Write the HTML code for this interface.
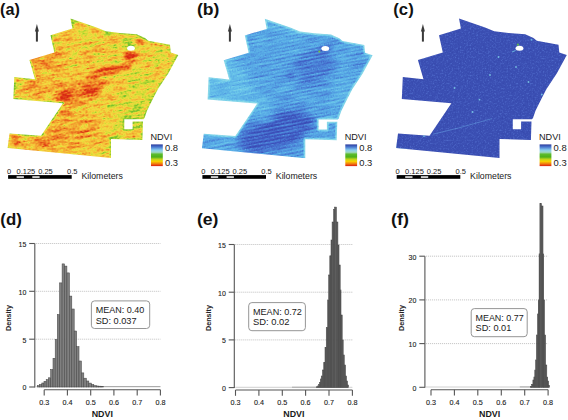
<!DOCTYPE html>
<html><head><meta charset="utf-8"><title>NDVI figure</title>
<style>
html,body{margin:0;padding:0;background:#fff;}
body{width:568px;height:420px;overflow:hidden;font-family:"Liberation Sans",sans-serif;}
svg{display:block;}
text{font-family:"Liberation Sans",sans-serif;}
</style></head><body>
<svg width="568" height="420" viewBox="0 0 568 420">
<defs>
<pattern id="stripesa" width="20" height="3.5" patternUnits="userSpaceOnUse" patternTransform="rotate(-9)"><rect width="20" height="1.3" fill="#000"/></pattern>
<pattern id="stripesb" width="20" height="3.4" patternUnits="userSpaceOnUse" patternTransform="rotate(-11)"><rect width="20" height="1.1" fill="#fff"/></pattern>
<filter id="sb" x="-5%" y="-5%" width="110%" height="110%"><feGaussianBlur stdDeviation="0.35"/></filter>
<clipPath id="field"><polygon points="70.5,18.5 96.6,27.5 105.7,31.3 120.0,33.0 136.7,34.2 145.0,38.0 148.3,40.8 170.0,44.7 170.8,52.5 178.3,55.0 168.4,73.2 158.0,89.0 153.2,98.2 147.0,110.7 144.5,118.0 143.5,119.2 124.3,119.2 124.3,129.3 132.6,129.3 132.6,121.5 143.0,121.5 142.4,140.0 111.0,139.0 111.0,158.0 7.6,148.0 9.5,133.4 41.0,135.7 62.9,103.3 13.3,99.1 14.3,77.0 35.0,79.3 29.4,60.0 54.3,52.4 50.5,35.2 72.4,28.6"/></clipPath>
<linearGradient id="ramp" x1="0" y1="0" x2="0" y2="1">
<stop offset="0" stop-color="#2b3a9c"/><stop offset="0.12" stop-color="#4a78d0"/>
<stop offset="0.26" stop-color="#86cdee"/><stop offset="0.36" stop-color="#a0d8c8"/>
<stop offset="0.45" stop-color="#5cbc2c"/><stop offset="0.58" stop-color="#4caf1c"/>
<stop offset="0.68" stop-color="#bcd41c"/><stop offset="0.78" stop-color="#f8d400"/>
<stop offset="0.9" stop-color="#f07810"/><stop offset="1" stop-color="#dc1c10"/>
</linearGradient>
<filter id="blur3" x="-50%" y="-50%" width="200%" height="200%"><feGaussianBlur stdDeviation="4"/></filter>
<filter id="blur05" x="-50%" y="-50%" width="200%" height="200%"><feGaussianBlur stdDeviation="0.45"/></filter>
<filter id="blur1" x="-50%" y="-50%" width="200%" height="200%"><feGaussianBlur stdDeviation="1.4"/></filter>
<filter id="fA" x="0" y="0" width="100%" height="100%" color-interpolation-filters="sRGB">
<feTurbulence type="fractalNoise" baseFrequency="0.07 0.35" numOctaves="2" seed="3" result="t1"/>
<feColorMatrix in="t1" type="matrix" values="1 0 0 0 0  1 0 0 0 0  1 0 0 0 0  0 0 0 0 1" result="n1"/>
<feTurbulence type="fractalNoise" baseFrequency="0.45 0.6" numOctaves="1" seed="7" result="t2"/>
<feColorMatrix in="t2" type="matrix" values="1 0 0 0 0  1 0 0 0 0  1 0 0 0 0  0 0 0 0 1" result="n2"/>
<feComposite in="SourceGraphic" in2="n1" operator="arithmetic" k1="0" k2="1" k3="1.0" k4="-0.5" result="s1"/>
<feComposite in="s1" in2="n2" operator="arithmetic" k1="0" k2="1" k3="0.8" k4="-0.4" result="s2"/>
<feColorMatrix in="s2" type="matrix" values="1 0 0 0 0  1 0 0 0 0  1 0 0 0 0  0 0 0 0 1"/>
<feComponentTransfer>
<feFuncR type="table" tableValues="0.85 0.91 0.94 0.96 0.95 0.78 0.45"/>
<feFuncG type="table" tableValues="0.16 0.36 0.56 0.72 0.86 0.86 0.75"/>
<feFuncB type="table" tableValues="0.08 0.11 0.16 0.21 0.25 0.20 0.18"/>
</feComponentTransfer>
</filter>
<filter id="fB" x="0" y="0" width="100%" height="100%" color-interpolation-filters="sRGB">
<feTurbulence type="fractalNoise" baseFrequency="0.05 0.42" numOctaves="2" seed="5" result="t1"/>
<feColorMatrix in="t1" type="matrix" values="1 0 0 0 0  1 0 0 0 0  1 0 0 0 0  0 0 0 0 1" result="n1"/>
<feTurbulence type="fractalNoise" baseFrequency="0.8" numOctaves="1" seed="9" result="t2"/>
<feColorMatrix in="t2" type="matrix" values="1 0 0 0 0  1 0 0 0 0  1 0 0 0 0  0 0 0 0 1" result="n2"/>
<feComposite in="SourceGraphic" in2="n1" operator="arithmetic" k1="0" k2="1" k3="0.5" k4="-0.25" result="s1"/>
<feComposite in="s1" in2="n2" operator="arithmetic" k1="0" k2="1" k3="0.5" k4="-0.25" result="s2"/>
<feColorMatrix in="s2" type="matrix" values="1 0 0 0 0  1 0 0 0 0  1 0 0 0 0  0 0 0 0 1"/>
<feComponentTransfer>
<feFuncR type="table" tableValues="0.22 0.25 0.29 0.34 0.42 0.56"/>
<feFuncG type="table" tableValues="0.27 0.35 0.50 0.66 0.78 0.86"/>
<feFuncB type="table" tableValues="0.68 0.76 0.84 0.90 0.92 0.91"/>
</feComponentTransfer>
</filter>
<filter id="fC" x="0" y="0" width="100%" height="100%" color-interpolation-filters="sRGB">
<feTurbulence type="fractalNoise" baseFrequency="0.6" numOctaves="2" seed="2" result="t2"/>
<feColorMatrix in="t2" type="matrix" values="0 0 0 0 0.20  0 0 0 0 0.27  0 0 0 0 0.66  -2.2 0 0 0 1.0" result="dk"/>
<feColorMatrix in="t2" type="matrix" values="0 0 0 0 0.33  0 0 0 0 0.45  0 0 0 0 0.82  2.2 0 0 0 -1.15" result="lt"/>
<feComposite in="dk" in2="SourceGraphic" operator="over" result="m1"/>
<feComposite in="lt" in2="m1" operator="over"/>
</filter>
</defs>
<rect width="568" height="420" fill="#fff"/>

<g transform="translate(0,0)">
<g clip-path="url(#field)">
<g transform="rotate(-10 90 90)"><g filter="url(#fA)"><g transform="rotate(10 90 90)">
<rect x="-20" y="-10" width="225" height="195" fill="rgb(158,158,158)"/>
<g filter="url(#blur3)">
<ellipse cx="45" cy="62" rx="22" ry="14" transform="rotate(-10 45 62)" fill="rgb(102,102,102)" opacity="0.8"/>
<ellipse cx="40" cy="88" rx="22" ry="10" transform="rotate(0 40 88)" fill="rgb(107,107,107)" opacity="0.75"/>
<ellipse cx="62" cy="135" rx="45" ry="12" transform="rotate(-15 62 135)" fill="rgb(92,92,92)" opacity="0.8"/>
<ellipse cx="60" cy="145" rx="35" ry="8" transform="rotate(0 60 145)" fill="rgb(115,115,115)" opacity="0.5"/>
<ellipse cx="140" cy="88" rx="14" ry="22" transform="rotate(-25 140 88)" fill="rgb(204,204,204)" opacity="0.8"/>
<ellipse cx="130" cy="112" rx="12" ry="10" transform="rotate(0 130 112)" fill="rgb(230,230,230)" opacity="0.9"/>
<ellipse cx="100" cy="33" rx="25" ry="6" transform="rotate(-15 100 33)" fill="rgb(191,191,191)" opacity="0.7"/>
<ellipse cx="160" cy="60" rx="14" ry="8" transform="rotate(0 160 60)" fill="rgb(204,204,204)" opacity="0.6"/>
<ellipse cx="80" cy="92" rx="28" ry="9" transform="rotate(-20 80 92)" fill="rgb(41,41,41)" opacity="0.95"/>
<ellipse cx="55" cy="108" rx="15" ry="8" transform="rotate(-25 55 108)" fill="rgb(64,64,64)" opacity="0.8"/>
<ellipse cx="114" cy="124" rx="12" ry="6" transform="rotate(-10 114 124)" fill="rgb(219,219,219)" opacity="0.8"/>
<ellipse cx="122" cy="102" rx="14" ry="10" transform="rotate(-20 122 102)" fill="rgb(189,189,189)" opacity="0.6"/>
</g>
<g filter="url(#blur1)">
<ellipse cx="112" cy="70" rx="20" ry="4" transform="rotate(-10 112 70)" fill="rgb(31,31,31)" opacity="0.9"/>
<ellipse cx="98" cy="74" rx="12" ry="3" transform="rotate(-10 98 74)" fill="rgb(38,38,38)" opacity="0.8"/>
<ellipse cx="72" cy="22" rx="4" ry="4" transform="rotate(0 72 22)" fill="rgb(242,242,242)" opacity="0.8"/>
<ellipse cx="130.5" cy="46" rx="8.5" ry="4.5" transform="rotate(0 130.5 46)" fill="rgb(242,242,242)" opacity="1"/>
<ellipse cx="131" cy="55.5" rx="7" ry="4.5" transform="rotate(0 131 55.5)" fill="rgb(10,10,10)" opacity="1"/>
<ellipse cx="139" cy="42" rx="5" ry="2.5" transform="rotate(-20 139 42)" fill="rgb(38,38,38)" opacity="0.9"/>
<ellipse cx="132" cy="124" rx="11" ry="5" transform="rotate(0 132 124)" fill="rgb(242,242,242)" opacity="0.8"/>
<ellipse cx="15" cy="140" rx="4" ry="8" transform="rotate(0 15 140)" fill="rgb(51,51,51)" opacity="0.7"/>
</g>
<rect x="-20" y="-10" width="225" height="195" fill="url(#stripesa)" opacity="0.12" filter="url(#sb)"/>
<polyline points="72.4,28.6 70.5,18.5 96.6,27.5 105.7,31.3 120,33 136.7,34.2 145,38 148.3,40.8 170,44.7 170.8,52.5 178.3,55 168.4,73.2 158,89 153.2,98.2 147,110.7 144.5,118" fill="none" stroke="rgb(242,242,242)" stroke-width="3.2" opacity="0.8" stroke-linejoin="round"/>
<polyline points="143,121.5 142.4,140" fill="none" stroke="rgb(242,242,242)" stroke-width="3.2" opacity="0.8" stroke-linejoin="round"/>
<polyline points="9.5,133.4 41,135.7 62.9,103.3 13.3,99.1 14.3,77 35,79.3 29.4,60" fill="none" stroke="rgb(242,242,242)" stroke-width="3.2" opacity="0.8" stroke-linejoin="round"/>
<polyline points="54.3,52.4 50.5,35.2" fill="none" stroke="rgb(242,242,242)" stroke-width="3.2" opacity="0.8" stroke-linejoin="round"/>
<polyline points="143.5,119.2 124.3,119.2 124.3,129.3 132.6,129.3 132.6,121.5 143,121.5" fill="none" stroke="rgb(242,242,242)" stroke-width="3.2" opacity="0.8" stroke-linejoin="round"/>
<polyline points="111,158 111,139 142.4,140" fill="none" stroke="rgb(242,242,242)" stroke-width="3.2" opacity="0.8" stroke-linejoin="round"/>
</g></g></g>
</g>
<ellipse cx="131" cy="48.2" rx="3.9" ry="2.5" fill="#fff"/>
</g>
<g transform="translate(194.3,0.3)">
<g clip-path="url(#field)">
<g transform="rotate(-10 90 90)"><g filter="url(#fB)"><g transform="rotate(10 90 90)">
<rect x="-20" y="-10" width="225" height="195" fill="rgb(128,128,128)"/>
<g filter="url(#blur3)">
<ellipse cx="82" cy="131" rx="40" ry="18" transform="rotate(-20 82 131)" fill="rgb(26,26,26)" opacity="1"/>
<ellipse cx="122" cy="68" rx="22" ry="18" transform="rotate(0 122 68)" fill="rgb(64,64,64)" opacity="0.85"/>
<ellipse cx="30" cy="82" rx="22" ry="28" transform="rotate(0 30 82)" fill="rgb(184,184,184)" opacity="0.8"/>
<ellipse cx="58" cy="98" rx="12" ry="26" transform="rotate(-35 58 98)" fill="rgb(178,178,178)" opacity="0.6"/>
<ellipse cx="95" cy="32" rx="35" ry="8" transform="rotate(-12 95 32)" fill="rgb(153,153,153)" opacity="0.6"/>
<ellipse cx="150" cy="95" rx="14" ry="26" transform="rotate(-30 150 95)" fill="rgb(158,158,158)" opacity="0.6"/>
<ellipse cx="20" cy="142" rx="14" ry="8" transform="rotate(0 20 142)" fill="rgb(153,153,153)" opacity="0.6"/>
</g>
<g filter="url(#blur1)">
<ellipse cx="97" cy="75" rx="5" ry="4" transform="rotate(0 97 75)" fill="rgb(56,56,56)" opacity="0.8"/>
<ellipse cx="128" cy="55" rx="3" ry="7" transform="rotate(0 128 55)" fill="rgb(64,64,64)" opacity="0.8"/>
<ellipse cx="131" cy="48" rx="7.5" ry="4.5" transform="rotate(0 131 48)" fill="rgb(51,51,51)" opacity="0.8"/>
</g>
<rect x="-20" y="-10" width="225" height="195" fill="url(#stripesb)" opacity="0.5" filter="url(#sb)"/>
<polyline points="72.4,28.6 70.5,18.5 96.6,27.5 105.7,31.3 120,33 136.7,34.2 145,38 148.3,40.8 170,44.7 170.8,52.5 178.3,55 168.4,73.2 158,89 153.2,98.2 147,110.7 144.5,118" fill="none" stroke="rgb(242,242,242)" stroke-width="3.2" opacity="1" stroke-linejoin="round"/>
<polyline points="143,121.5 142.4,140" fill="none" stroke="rgb(242,242,242)" stroke-width="3.2" opacity="1" stroke-linejoin="round"/>
<polyline points="9.5,133.4 41,135.7 62.9,103.3 13.3,99.1 14.3,77 35,79.3 29.4,60" fill="none" stroke="rgb(242,242,242)" stroke-width="3.2" opacity="1" stroke-linejoin="round"/>
<polyline points="54.3,52.4 50.5,35.2" fill="none" stroke="rgb(242,242,242)" stroke-width="3.2" opacity="1" stroke-linejoin="round"/>
<polyline points="143.5,119.2 124.3,119.2 124.3,129.3 132.6,129.3 132.6,121.5 143,121.5" fill="none" stroke="rgb(242,242,242)" stroke-width="3.2" opacity="1" stroke-linejoin="round"/>
<polyline points="111,158 111,139 142.4,140" fill="none" stroke="rgb(242,242,242)" stroke-width="3.2" opacity="1" stroke-linejoin="round"/>
</g></g></g>
<circle cx="125" cy="51.3" r="1.1" fill="#7cc83c" opacity="0.9" filter="url(#blur05)"/>
</g>
<ellipse cx="131" cy="48.2" rx="3.9" ry="2.5" fill="#fff"/>
</g>
<g transform="translate(388.5,0)">
<g clip-path="url(#field)">
<g filter="url(#fC)"><rect x="0" y="10" width="185" height="155" fill="#3b4fb3"/></g>
<g filter="url(#blur05)">
<polyline points="44.4,134.2 70,128 103.2,118.7" fill="none" stroke="#6aa8e6" stroke-width="0.7" opacity="0.7"/>
<circle cx="101.5" cy="75" r="0.9" fill="#7cd0e8" opacity="0.85"/>
<circle cx="127.5" cy="67" r="0.9" fill="#7cd0e8" opacity="0.85"/>
<circle cx="91" cy="99.7" r="0.9" fill="#7cd0e8" opacity="0.85"/>
<circle cx="153.3" cy="94.5" r="0.9" fill="#7cd0e8" opacity="0.85"/>
<circle cx="11.5" cy="94.5" r="0.9" fill="#7cd0e8" opacity="0.85"/>
<circle cx="8.1" cy="137.7" r="0.9" fill="#7cd0e8" opacity="0.85"/>
<circle cx="35.5" cy="136" r="0.9" fill="#7cd0e8" opacity="0.85"/>
<circle cx="66" cy="88" r="0.9" fill="#7cd0e8" opacity="0.85"/>
<circle cx="110" cy="57" r="0.9" fill="#7cd0e8" opacity="0.85"/>
<circle cx="125" cy="122" r="0.9" fill="#7cd0e8" opacity="0.85"/>
<circle cx="84" cy="112" r="0.9" fill="#7cd0e8" opacity="0.85"/>
<circle cx="140" cy="82" r="0.9" fill="#7cd0e8" opacity="0.85"/>
<polyline points="7.5,140 7.6,148 20,149.5" fill="none" stroke="#5fb0e0" stroke-width="1" opacity="0.5"/>
<circle cx="129.4" cy="44.7" r="1.1" fill="#60c040" opacity="0.9"/>
<polyline points="123.5,52 127,50.5" fill="none" stroke="#70c8e8" stroke-width="1" opacity="0.8"/>
<circle cx="143" cy="39.8" r="1" fill="#70c8e8" opacity="0.8"/>
</g>
</g>
<ellipse cx="131" cy="48.2" rx="3.9" ry="2.5" fill="#fff"/>
</g>
<polygon points="36.9,24.1 38.9,31.6 34.9,31.6" fill="#3a3a3a"/><rect x="35.9" y="30" width="2" height="11.6" fill="#3a3a3a"/>
<polygon points="229.9,24.1 231.9,31.6 227.9,31.6" fill="#3a3a3a"/><rect x="228.9" y="30" width="2" height="11.6" fill="#3a3a3a"/>
<polygon points="422.9,24.1 424.9,31.6 420.9,31.6" fill="#3a3a3a"/><rect x="421.9" y="30" width="2" height="11.6" fill="#3a3a3a"/>
<text x="0" y="15.3" font-size="16.5" font-weight="bold" fill="#111" textLength="19.8" lengthAdjust="spacingAndGlyphs">(a)</text>
<text x="196.9" y="15.3" font-size="16.5" font-weight="bold" fill="#111" textLength="22.4" lengthAdjust="spacingAndGlyphs">(b)</text>
<text x="393.3" y="15.3" font-size="16.5" font-weight="bold" fill="#111" textLength="20.4" lengthAdjust="spacingAndGlyphs">(c)</text>
<text x="150.4" y="139.7" font-size="9.8" fill="#1a1a1a" textLength="21.8" lengthAdjust="spacingAndGlyphs">NDVI</text>
<rect x="151.0" y="144.4" width="11.8" height="21.7" fill="url(#ramp)"/>
<text x="165.0" y="150.9" font-size="9.4" fill="#1a1a1a">0.8</text>
<text x="165.0" y="165.9" font-size="9.4" fill="#1a1a1a">0.3</text>
<rect x="8.1" y="175.1" width="63.6" height="3.7" fill="#000"/>
<rect x="16.6" y="176.3" width="7.3" height="1.5" fill="#fff"/>
<rect x="32.3" y="176.3" width="7.3" height="1.5" fill="#fff"/>
<text x="7.0" y="173.6" font-size="7.5" fill="#1a1a1a">0</text>
<text x="16.5" y="173.6" font-size="7.5" fill="#1a1a1a">0.125</text>
<text x="38.2" y="173.6" font-size="7.5" fill="#1a1a1a">0.25</text>
<text x="67.0" y="173.6" font-size="7.5" fill="#1a1a1a">0.5</text>
<text x="81.5" y="178.6" font-size="8.7" fill="#1a1a1a" textLength="41.4" lengthAdjust="spacingAndGlyphs">Kilometers</text>
<text x="344.7" y="139.7" font-size="9.8" fill="#1a1a1a" textLength="21.8" lengthAdjust="spacingAndGlyphs">NDVI</text>
<rect x="345.3" y="144.4" width="11.8" height="21.7" fill="url(#ramp)"/>
<text x="359.3" y="150.9" font-size="9.4" fill="#1a1a1a">0.8</text>
<text x="359.3" y="165.9" font-size="9.4" fill="#1a1a1a">0.3</text>
<rect x="202.4" y="175.1" width="63.6" height="3.7" fill="#000"/>
<rect x="210.9" y="176.3" width="7.3" height="1.5" fill="#fff"/>
<rect x="226.6" y="176.3" width="7.3" height="1.5" fill="#fff"/>
<text x="201.3" y="173.6" font-size="7.5" fill="#1a1a1a">0</text>
<text x="210.8" y="173.6" font-size="7.5" fill="#1a1a1a">0.125</text>
<text x="232.5" y="173.6" font-size="7.5" fill="#1a1a1a">0.25</text>
<text x="261.3" y="173.6" font-size="7.5" fill="#1a1a1a">0.5</text>
<text x="275.8" y="178.6" font-size="8.7" fill="#1a1a1a" textLength="41.4" lengthAdjust="spacingAndGlyphs">Kilometers</text>
<text x="539.0" y="139.7" font-size="9.8" fill="#1a1a1a" textLength="21.8" lengthAdjust="spacingAndGlyphs">NDVI</text>
<rect x="539.6" y="144.4" width="11.8" height="21.7" fill="url(#ramp)"/>
<text x="553.6" y="150.9" font-size="9.4" fill="#1a1a1a">0.8</text>
<text x="553.6" y="165.9" font-size="9.4" fill="#1a1a1a">0.3</text>
<rect x="396.7" y="175.1" width="63.6" height="3.7" fill="#000"/>
<rect x="405.2" y="176.3" width="7.3" height="1.5" fill="#fff"/>
<rect x="420.9" y="176.3" width="7.3" height="1.5" fill="#fff"/>
<text x="395.6" y="173.6" font-size="7.5" fill="#1a1a1a">0</text>
<text x="405.1" y="173.6" font-size="7.5" fill="#1a1a1a">0.125</text>
<text x="426.8" y="173.6" font-size="7.5" fill="#1a1a1a">0.25</text>
<text x="455.6" y="173.6" font-size="7.5" fill="#1a1a1a">0.5</text>
<text x="470.1" y="178.6" font-size="8.7" fill="#1a1a1a" textLength="41.4" lengthAdjust="spacingAndGlyphs">Kilometers</text>
<text x="0.3" y="225.2" font-size="16.5" font-weight="bold" fill="#111" textLength="21.5" lengthAdjust="spacingAndGlyphs">(d)</text>
<line x1="35.8" y1="339.2" x2="160.4" y2="339.2" stroke="#b0b0b0" stroke-width="0.8" stroke-dasharray="1 1"/>
<line x1="35.8" y1="291.3" x2="160.4" y2="291.3" stroke="#b0b0b0" stroke-width="0.8" stroke-dasharray="1 1"/>
<line x1="35.8" y1="243.5" x2="160.4" y2="243.5" stroke="#b0b0b0" stroke-width="0.8" stroke-dasharray="1 1"/>
<line x1="35.8" y1="386.7" x2="160.4" y2="386.7" stroke="#c4c4c4" stroke-width="0.8"/>
<line x1="95.0" y1="386.6" x2="160.4" y2="386.6" stroke="#9a9a9a" stroke-width="0.8"/>
<rect x="37.40" y="385.70" width="2.20" height="1.30" fill="#808080" stroke="#484848" stroke-width="0.55"/>
<rect x="39.60" y="384.60" width="2.20" height="2.40" fill="#808080" stroke="#484848" stroke-width="0.55"/>
<rect x="41.80" y="383.00" width="2.20" height="4.00" fill="#808080" stroke="#484848" stroke-width="0.55"/>
<rect x="44.00" y="381.40" width="2.20" height="5.60" fill="#808080" stroke="#484848" stroke-width="0.55"/>
<rect x="46.20" y="379.70" width="2.20" height="7.30" fill="#808080" stroke="#484848" stroke-width="0.55"/>
<rect x="48.40" y="377.80" width="2.30" height="9.20" fill="#808080" stroke="#484848" stroke-width="0.55"/>
<rect x="50.70" y="369.60" width="2.30" height="17.40" fill="#808080" stroke="#484848" stroke-width="0.55"/>
<rect x="53.00" y="358.30" width="2.20" height="28.70" fill="#808080" stroke="#484848" stroke-width="0.55"/>
<rect x="55.20" y="339.60" width="2.10" height="47.40" fill="#808080" stroke="#484848" stroke-width="0.55"/>
<rect x="57.30" y="314.60" width="2.30" height="72.40" fill="#808080" stroke="#484848" stroke-width="0.55"/>
<rect x="59.60" y="282.90" width="2.50" height="104.10" fill="#808080" stroke="#484848" stroke-width="0.55"/>
<rect x="62.10" y="263.90" width="2.40" height="123.10" fill="#808080" stroke="#484848" stroke-width="0.55"/>
<rect x="64.50" y="266.10" width="2.40" height="120.90" fill="#808080" stroke="#484848" stroke-width="0.55"/>
<rect x="66.90" y="272.90" width="2.50" height="114.10" fill="#808080" stroke="#484848" stroke-width="0.55"/>
<rect x="69.40" y="296.10" width="2.40" height="90.90" fill="#808080" stroke="#484848" stroke-width="0.55"/>
<rect x="71.80" y="309.00" width="2.40" height="78.00" fill="#808080" stroke="#484848" stroke-width="0.55"/>
<rect x="74.20" y="331.00" width="2.40" height="56.00" fill="#808080" stroke="#484848" stroke-width="0.55"/>
<rect x="76.60" y="346.70" width="2.40" height="40.30" fill="#808080" stroke="#484848" stroke-width="0.55"/>
<rect x="79.00" y="361.00" width="2.40" height="26.00" fill="#808080" stroke="#484848" stroke-width="0.55"/>
<rect x="81.40" y="372.90" width="2.40" height="14.10" fill="#808080" stroke="#484848" stroke-width="0.55"/>
<rect x="83.80" y="378.20" width="2.50" height="8.80" fill="#808080" stroke="#484848" stroke-width="0.55"/>
<rect x="86.30" y="381.00" width="2.50" height="6.00" fill="#808080" stroke="#484848" stroke-width="0.55"/>
<rect x="88.80" y="383.10" width="2.50" height="3.90" fill="#808080" stroke="#484848" stroke-width="0.55"/>
<rect x="91.30" y="384.60" width="2.50" height="2.40" fill="#808080" stroke="#484848" stroke-width="0.55"/>
<rect x="93.80" y="385.70" width="2.40" height="1.30" fill="#808080" stroke="#484848" stroke-width="0.55"/>
<rect x="96.20" y="386.00" width="2.40" height="1.00" fill="#808080" stroke="#484848" stroke-width="0.55"/>
<rect x="98.60" y="386.20" width="2.40" height="0.80" fill="#808080" stroke="#484848" stroke-width="0.55"/>
<rect x="101.00" y="386.30" width="2.40" height="0.70" fill="#808080" stroke="#484848" stroke-width="0.55"/>
<line x1="34.8" y1="243.5" x2="34.8" y2="387.4" stroke="#555" stroke-width="1.1"/>
<line x1="29.2" y1="387.0" x2="34.8" y2="387.0" stroke="#555" stroke-width="1.1"/>
<text x="26.3" y="390.4" font-size="7" fill="#222" stroke="#222" stroke-width="0.12" text-anchor="end">0</text>
<line x1="29.2" y1="339.2" x2="34.8" y2="339.2" stroke="#555" stroke-width="1.1"/>
<text x="26.3" y="342.6" font-size="7" fill="#222" stroke="#222" stroke-width="0.12" text-anchor="end">5</text>
<line x1="29.2" y1="291.3" x2="34.8" y2="291.3" stroke="#555" stroke-width="1.1"/>
<text x="26.3" y="294.7" font-size="7" fill="#222" stroke="#222" stroke-width="0.12" text-anchor="end">10</text>
<line x1="29.2" y1="243.5" x2="34.8" y2="243.5" stroke="#555" stroke-width="1.1"/>
<text x="26.3" y="246.9" font-size="7" fill="#222" stroke="#222" stroke-width="0.12" text-anchor="end">15</text>
<line x1="44.2" y1="389.8" x2="160.4" y2="389.8" stroke="#555" stroke-width="1.1"/>
<line x1="44.2" y1="389.8" x2="44.2" y2="395.6" stroke="#555" stroke-width="1.1"/>
<text x="44.2" y="404.6" font-size="7.2" fill="#222" stroke="#222" stroke-width="0.12" text-anchor="middle">0.3</text>
<line x1="67.4" y1="389.8" x2="67.4" y2="395.6" stroke="#555" stroke-width="1.1"/>
<text x="67.4" y="404.6" font-size="7.2" fill="#222" stroke="#222" stroke-width="0.12" text-anchor="middle">0.4</text>
<line x1="90.7" y1="389.8" x2="90.7" y2="395.6" stroke="#555" stroke-width="1.1"/>
<text x="90.7" y="404.6" font-size="7.2" fill="#222" stroke="#222" stroke-width="0.12" text-anchor="middle">0.5</text>
<line x1="113.9" y1="389.8" x2="113.9" y2="395.6" stroke="#555" stroke-width="1.1"/>
<text x="113.9" y="404.6" font-size="7.2" fill="#222" stroke="#222" stroke-width="0.12" text-anchor="middle">0.6</text>
<line x1="137.2" y1="389.8" x2="137.2" y2="395.6" stroke="#555" stroke-width="1.1"/>
<text x="137.2" y="404.6" font-size="7.2" fill="#222" stroke="#222" stroke-width="0.12" text-anchor="middle">0.7</text>
<line x1="160.4" y1="389.8" x2="160.4" y2="395.6" stroke="#555" stroke-width="1.1"/>
<text x="160.4" y="404.6" font-size="7.2" fill="#222" stroke="#222" stroke-width="0.12" text-anchor="middle">0.8</text>
<text x="102.3" y="417.3" font-size="8.4" font-weight="bold" fill="#1a1a1a" text-anchor="middle" textLength="21.2" lengthAdjust="spacingAndGlyphs">NDVI</text>
<text transform="translate(11.2,318) rotate(-90)" font-size="7.2" font-weight="bold" fill="#222" text-anchor="middle" textLength="26" lengthAdjust="spacingAndGlyphs">Density</text>
<rect x="91.4" y="300.9" width="58.3" height="27.6" rx="3.2" fill="#fff" stroke="#8a8a8a" stroke-width="0.9"/>
<text x="95.7" y="312.9" font-size="8.8" fill="#1a1a1a" textLength="48.6" lengthAdjust="spacingAndGlyphs">MEAN: 0.40</text>
<text x="95.7" y="323.6" font-size="8.8" fill="#1a1a1a" textLength="40.8" lengthAdjust="spacingAndGlyphs">SD: 0.037</text>
<text x="196.9" y="225.2" font-size="16.5" font-weight="bold" fill="#111" textLength="21.5" lengthAdjust="spacingAndGlyphs">(e)</text>
<line x1="235.3" y1="339.9" x2="352.4" y2="339.9" stroke="#b0b0b0" stroke-width="0.8" stroke-dasharray="1 1"/>
<line x1="235.3" y1="292.2" x2="352.4" y2="292.2" stroke="#b0b0b0" stroke-width="0.8" stroke-dasharray="1 1"/>
<line x1="235.3" y1="244.5" x2="352.4" y2="244.5" stroke="#b0b0b0" stroke-width="0.8" stroke-dasharray="1 1"/>
<line x1="235.3" y1="387.3" x2="352.4" y2="387.3" stroke="#c4c4c4" stroke-width="0.8"/>
<line x1="292.0" y1="387.2" x2="317.0" y2="387.2" stroke="#9a9a9a" stroke-width="0.8"/>
<rect x="316.40" y="386.80" width="1.10" height="0.80" fill="#5e5e5e" stroke="#484848" stroke-width="0.55"/>
<rect x="317.50" y="386.00" width="1.00" height="1.60" fill="#5e5e5e" stroke="#484848" stroke-width="0.55"/>
<rect x="318.50" y="384.50" width="1.00" height="3.10" fill="#5e5e5e" stroke="#484848" stroke-width="0.55"/>
<rect x="319.50" y="382.50" width="0.90" height="5.10" fill="#5e5e5e" stroke="#484848" stroke-width="0.55"/>
<rect x="320.40" y="379.00" width="0.85" height="8.60" fill="#5e5e5e" stroke="#484848" stroke-width="0.55"/>
<rect x="321.25" y="376.00" width="1.25" height="11.60" fill="#5e5e5e" stroke="#484848" stroke-width="0.55"/>
<rect x="322.50" y="370.00" width="1.25" height="17.60" fill="#5e5e5e" stroke="#484848" stroke-width="0.55"/>
<rect x="323.75" y="362.50" width="1.25" height="25.10" fill="#5e5e5e" stroke="#484848" stroke-width="0.55"/>
<rect x="325.00" y="347.50" width="1.25" height="40.10" fill="#5e5e5e" stroke="#484848" stroke-width="0.55"/>
<rect x="326.25" y="327.50" width="1.45" height="60.10" fill="#5e5e5e" stroke="#484848" stroke-width="0.55"/>
<rect x="327.70" y="300.00" width="1.00" height="87.60" fill="#5e5e5e" stroke="#484848" stroke-width="0.55"/>
<rect x="328.70" y="275.00" width="1.10" height="112.60" fill="#5e5e5e" stroke="#484848" stroke-width="0.55"/>
<rect x="329.80" y="255.80" width="1.20" height="131.80" fill="#5e5e5e" stroke="#484848" stroke-width="0.55"/>
<rect x="331.00" y="240.00" width="1.10" height="147.60" fill="#5e5e5e" stroke="#484848" stroke-width="0.55"/>
<rect x="332.10" y="222.00" width="1.50" height="165.60" fill="#5e5e5e" stroke="#484848" stroke-width="0.55"/>
<rect x="333.60" y="209.30" width="1.00" height="178.30" fill="#5e5e5e" stroke="#484848" stroke-width="0.55"/>
<rect x="334.60" y="207.10" width="1.80" height="180.50" fill="#5e5e5e" stroke="#484848" stroke-width="0.55"/>
<rect x="336.40" y="222.00" width="1.50" height="165.60" fill="#5e5e5e" stroke="#484848" stroke-width="0.55"/>
<rect x="337.90" y="245.00" width="1.10" height="142.60" fill="#5e5e5e" stroke="#484848" stroke-width="0.55"/>
<rect x="339.00" y="265.00" width="1.20" height="122.60" fill="#5e5e5e" stroke="#484848" stroke-width="0.55"/>
<rect x="340.20" y="290.00" width="0.80" height="97.60" fill="#5e5e5e" stroke="#484848" stroke-width="0.55"/>
<rect x="341.00" y="315.00" width="1.20" height="72.60" fill="#5e5e5e" stroke="#484848" stroke-width="0.55"/>
<rect x="342.20" y="340.00" width="1.00" height="47.60" fill="#5e5e5e" stroke="#484848" stroke-width="0.55"/>
<rect x="343.20" y="355.00" width="1.05" height="32.60" fill="#5e5e5e" stroke="#484848" stroke-width="0.55"/>
<rect x="344.25" y="365.00" width="1.25" height="22.60" fill="#5e5e5e" stroke="#484848" stroke-width="0.55"/>
<rect x="345.50" y="376.00" width="1.00" height="11.60" fill="#5e5e5e" stroke="#484848" stroke-width="0.55"/>
<rect x="346.50" y="381.00" width="1.00" height="6.60" fill="#5e5e5e" stroke="#484848" stroke-width="0.55"/>
<rect x="347.50" y="385.00" width="1.00" height="2.60" fill="#5e5e5e" stroke="#484848" stroke-width="0.55"/>
<line x1="234.3" y1="244.5" x2="234.3" y2="388.0" stroke="#555" stroke-width="1.1"/>
<line x1="228.7" y1="387.6" x2="234.3" y2="387.6" stroke="#555" stroke-width="1.1"/>
<text x="225.8" y="391.0" font-size="7" fill="#222" stroke="#222" stroke-width="0.12" text-anchor="end">0</text>
<line x1="228.7" y1="339.9" x2="234.3" y2="339.9" stroke="#555" stroke-width="1.1"/>
<text x="225.8" y="343.3" font-size="7" fill="#222" stroke="#222" stroke-width="0.12" text-anchor="end">5</text>
<line x1="228.7" y1="292.2" x2="234.3" y2="292.2" stroke="#555" stroke-width="1.1"/>
<text x="225.8" y="295.6" font-size="7" fill="#222" stroke="#222" stroke-width="0.12" text-anchor="end">10</text>
<line x1="228.7" y1="244.5" x2="234.3" y2="244.5" stroke="#555" stroke-width="1.1"/>
<text x="225.8" y="247.9" font-size="7" fill="#222" stroke="#222" stroke-width="0.12" text-anchor="end">15</text>
<line x1="235.5" y1="390.0" x2="352.4" y2="390.0" stroke="#555" stroke-width="1.1"/>
<line x1="235.5" y1="390.0" x2="235.5" y2="395.8" stroke="#555" stroke-width="1.1"/>
<text x="235.5" y="404.6" font-size="7.2" fill="#222" stroke="#222" stroke-width="0.12" text-anchor="middle">0.3</text>
<line x1="258.9" y1="390.0" x2="258.9" y2="395.8" stroke="#555" stroke-width="1.1"/>
<text x="258.9" y="404.6" font-size="7.2" fill="#222" stroke="#222" stroke-width="0.12" text-anchor="middle">0.4</text>
<line x1="282.3" y1="390.0" x2="282.3" y2="395.8" stroke="#555" stroke-width="1.1"/>
<text x="282.3" y="404.6" font-size="7.2" fill="#222" stroke="#222" stroke-width="0.12" text-anchor="middle">0.5</text>
<line x1="305.6" y1="390.0" x2="305.6" y2="395.8" stroke="#555" stroke-width="1.1"/>
<text x="305.6" y="404.6" font-size="7.2" fill="#222" stroke="#222" stroke-width="0.12" text-anchor="middle">0.6</text>
<line x1="329.0" y1="390.0" x2="329.0" y2="395.8" stroke="#555" stroke-width="1.1"/>
<text x="329.0" y="404.6" font-size="7.2" fill="#222" stroke="#222" stroke-width="0.12" text-anchor="middle">0.7</text>
<line x1="352.4" y1="390.0" x2="352.4" y2="395.8" stroke="#555" stroke-width="1.1"/>
<text x="352.4" y="404.6" font-size="7.2" fill="#222" stroke="#222" stroke-width="0.12" text-anchor="middle">0.8</text>
<text x="293.9" y="417.3" font-size="8.4" font-weight="bold" fill="#1a1a1a" text-anchor="middle" textLength="21.2" lengthAdjust="spacingAndGlyphs">NDVI</text>
<text transform="translate(210.6,318) rotate(-90)" font-size="7.2" font-weight="bold" fill="#222" text-anchor="middle" textLength="26" lengthAdjust="spacingAndGlyphs">Density</text>
<rect x="248.7" y="302.6" width="56.7" height="28.1" rx="3.2" fill="#fff" stroke="#8a8a8a" stroke-width="0.9"/>
<text x="253.0" y="314.6" font-size="8.8" fill="#1a1a1a" textLength="48.9" lengthAdjust="spacingAndGlyphs">MEAN: 0.72</text>
<text x="253.0" y="325.3" font-size="8.8" fill="#1a1a1a" textLength="36.5" lengthAdjust="spacingAndGlyphs">SD: 0.02</text>
<text x="391" y="225.2" font-size="16.5" font-weight="bold" fill="#111" textLength="17.9" lengthAdjust="spacingAndGlyphs">(f)</text>
<line x1="425.9" y1="343.6" x2="548.1" y2="343.6" stroke="#b0b0b0" stroke-width="0.8" stroke-dasharray="1 1"/>
<line x1="425.9" y1="299.9" x2="548.1" y2="299.9" stroke="#b0b0b0" stroke-width="0.8" stroke-dasharray="1 1"/>
<line x1="425.9" y1="256.2" x2="548.1" y2="256.2" stroke="#b0b0b0" stroke-width="0.8" stroke-dasharray="1 1"/>
<line x1="425.9" y1="387.0" x2="548.1" y2="387.0" stroke="#c4c4c4" stroke-width="0.8"/>
<line x1="519.8" y1="386.9" x2="532.0" y2="386.9" stroke="#9a9a9a" stroke-width="0.8"/>
<rect x="530.50" y="386.30" width="1.20" height="1.00" fill="#5e5e5e" stroke="#484848" stroke-width="0.55"/>
<rect x="531.70" y="384.50" width="1.20" height="2.80" fill="#5e5e5e" stroke="#484848" stroke-width="0.55"/>
<rect x="532.90" y="380.00" width="1.00" height="7.30" fill="#5e5e5e" stroke="#484848" stroke-width="0.55"/>
<rect x="533.90" y="377.00" width="0.90" height="10.30" fill="#5e5e5e" stroke="#484848" stroke-width="0.55"/>
<rect x="534.80" y="370.00" width="0.80" height="17.30" fill="#5e5e5e" stroke="#484848" stroke-width="0.55"/>
<rect x="535.60" y="360.00" width="0.80" height="27.30" fill="#5e5e5e" stroke="#484848" stroke-width="0.55"/>
<rect x="536.40" y="335.00" width="1.10" height="52.30" fill="#5e5e5e" stroke="#484848" stroke-width="0.55"/>
<rect x="537.50" y="314.00" width="0.80" height="73.30" fill="#5e5e5e" stroke="#484848" stroke-width="0.55"/>
<rect x="538.30" y="300.00" width="0.80" height="87.30" fill="#5e5e5e" stroke="#484848" stroke-width="0.55"/>
<rect x="539.10" y="253.90" width="0.80" height="133.40" fill="#5e5e5e" stroke="#484848" stroke-width="0.55"/>
<rect x="539.90" y="203.60" width="1.50" height="183.70" fill="#5e5e5e" stroke="#484848" stroke-width="0.55"/>
<rect x="541.40" y="206.00" width="1.60" height="181.30" fill="#5e5e5e" stroke="#484848" stroke-width="0.55"/>
<rect x="543.00" y="253.90" width="0.70" height="133.40" fill="#5e5e5e" stroke="#484848" stroke-width="0.55"/>
<rect x="543.70" y="300.00" width="0.80" height="87.30" fill="#5e5e5e" stroke="#484848" stroke-width="0.55"/>
<rect x="544.50" y="335.00" width="1.10" height="52.30" fill="#5e5e5e" stroke="#484848" stroke-width="0.55"/>
<rect x="545.60" y="365.00" width="1.20" height="22.30" fill="#5e5e5e" stroke="#484848" stroke-width="0.55"/>
<rect x="546.80" y="377.00" width="0.90" height="10.30" fill="#5e5e5e" stroke="#484848" stroke-width="0.55"/>
<rect x="547.70" y="381.00" width="0.90" height="6.30" fill="#5e5e5e" stroke="#484848" stroke-width="0.55"/>
<rect x="548.60" y="385.50" width="0.90" height="1.80" fill="#5e5e5e" stroke="#484848" stroke-width="0.55"/>
<line x1="424.9" y1="256.2" x2="424.9" y2="387.7" stroke="#555" stroke-width="1.1"/>
<line x1="419.3" y1="387.3" x2="424.9" y2="387.3" stroke="#555" stroke-width="1.1"/>
<text x="416.4" y="390.7" font-size="7" fill="#222" stroke="#222" stroke-width="0.12" text-anchor="end">0</text>
<line x1="419.3" y1="343.6" x2="424.9" y2="343.6" stroke="#555" stroke-width="1.1"/>
<text x="416.4" y="347.0" font-size="7" fill="#222" stroke="#222" stroke-width="0.12" text-anchor="end">10</text>
<line x1="419.3" y1="299.9" x2="424.9" y2="299.9" stroke="#555" stroke-width="1.1"/>
<text x="416.4" y="303.3" font-size="7" fill="#222" stroke="#222" stroke-width="0.12" text-anchor="end">20</text>
<line x1="419.3" y1="256.2" x2="424.9" y2="256.2" stroke="#555" stroke-width="1.1"/>
<text x="416.4" y="259.6" font-size="7" fill="#222" stroke="#222" stroke-width="0.12" text-anchor="end">30</text>
<line x1="431.0" y1="389.7" x2="548.1" y2="389.7" stroke="#555" stroke-width="1.1"/>
<line x1="431.0" y1="389.7" x2="431.0" y2="395.5" stroke="#555" stroke-width="1.1"/>
<text x="431.0" y="404.6" font-size="7.2" fill="#222" stroke="#222" stroke-width="0.12" text-anchor="middle">0.3</text>
<line x1="454.4" y1="389.7" x2="454.4" y2="395.5" stroke="#555" stroke-width="1.1"/>
<text x="454.4" y="404.6" font-size="7.2" fill="#222" stroke="#222" stroke-width="0.12" text-anchor="middle">0.4</text>
<line x1="477.8" y1="389.7" x2="477.8" y2="395.5" stroke="#555" stroke-width="1.1"/>
<text x="477.8" y="404.6" font-size="7.2" fill="#222" stroke="#222" stroke-width="0.12" text-anchor="middle">0.5</text>
<line x1="501.3" y1="389.7" x2="501.3" y2="395.5" stroke="#555" stroke-width="1.1"/>
<text x="501.3" y="404.6" font-size="7.2" fill="#222" stroke="#222" stroke-width="0.12" text-anchor="middle">0.6</text>
<line x1="524.7" y1="389.7" x2="524.7" y2="395.5" stroke="#555" stroke-width="1.1"/>
<text x="524.7" y="404.6" font-size="7.2" fill="#222" stroke="#222" stroke-width="0.12" text-anchor="middle">0.7</text>
<line x1="548.1" y1="389.7" x2="548.1" y2="395.5" stroke="#555" stroke-width="1.1"/>
<text x="548.1" y="404.6" font-size="7.2" fill="#222" stroke="#222" stroke-width="0.12" text-anchor="middle">0.8</text>
<text x="489.6" y="417.3" font-size="8.4" font-weight="bold" fill="#1a1a1a" text-anchor="middle" textLength="21.2" lengthAdjust="spacingAndGlyphs">NDVI</text>
<text transform="translate(403.6,318) rotate(-90)" font-size="7.2" font-weight="bold" fill="#222" text-anchor="middle" textLength="26" lengthAdjust="spacingAndGlyphs">Density</text>
<rect x="471.2" y="308.6" width="56.0" height="28.1" rx="3.2" fill="#fff" stroke="#8a8a8a" stroke-width="0.9"/>
<text x="475.5" y="320.6" font-size="8.8" fill="#1a1a1a" textLength="48.2" lengthAdjust="spacingAndGlyphs">MEAN: 0.77</text>
<text x="475.5" y="331.3" font-size="8.8" fill="#1a1a1a" textLength="35.8" lengthAdjust="spacingAndGlyphs">SD: 0.01</text>
</svg>
</body></html>
